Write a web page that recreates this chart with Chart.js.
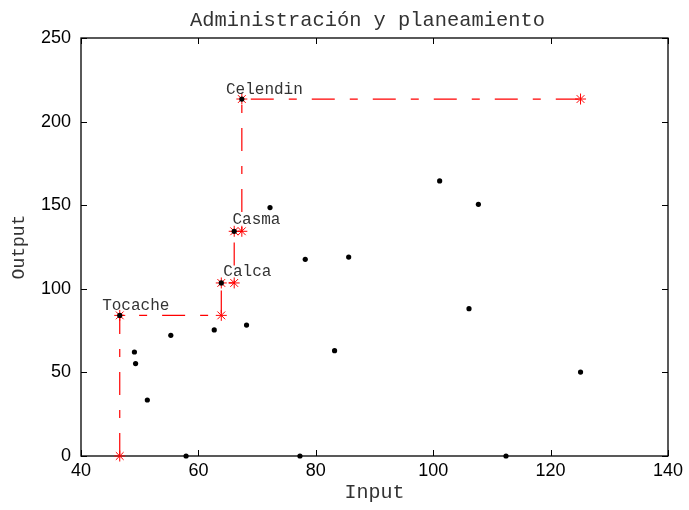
<!DOCTYPE html>
<html>
<head>
<meta charset="utf-8">
<script src="https://cdn.jsdelivr.net/npm/chart.js@4/dist/chart.umd.min.js"></script>
<style>
  body { margin: 0; background: #fff; }
  #wrap { width: 689px; height: 510px; }
</style>
</head>
<body>
<div id="wrap"><canvas id="c" width="689" height="510"></canvas></div>
<script>
// Daten
const titleText = 'Administración y planeamiento';
const inputs  = [46.6, 63.9, 66.1, 67.4, 49.1, 49.3, 51.3, 55.3, 57.9, 62.7, 68.2, 72.2, 78.2, 77.3, 83.2, 85.6, 101.1, 106.1, 107.7, 112.4, 125.1];
const outputs = [84.1, 103.5, 134.4, 213.5, 62.2, 55.3, 33.5, 72.2, 0, 75.4, 78.3, 148.6, 117.6, 0, 63.0, 119.0, 164.5, 88.1, 150.5, 0, 50.2];

// Frontera (escalera)
const frontierX = [46.6, 46.6, 63.9, 63.9, 66.1, 66.1, 67.4, 67.4, 125.1];
const frontierY = [0, 84.1, 84.1, 103.5, 103.5, 134.4, 134.4, 213.5, 213.5];

// Etiquetas de las unidades eficientes
const names  = ['Tocache', 'Calca', 'Casma', 'Celendin'];
const labelX = [43.6, 64.25, 65.8, 64.7];
const labelY = [87.6, 107.5, 139.0, 216.7];

const xTicks = [40, 60, 80, 100, 120, 140];
const yTicks = [0, 50, 100, 150, 200, 250];

const mono = "'Liberation Mono', 'DejaVu Sans Mono', monospace";
const sans = "'Liberation Sans', Arial, sans-serif";

const dots = inputs.map((v, i) => ({ x: v, y: outputs[i] }));
const frontier = frontierX.map((v, i) => ({ x: v, y: frontierY[i] }));

// Rahmen mit Ticks nach innen
const frame = {
    id: 'frame',
    beforeDatasetsDraw(chart) {
        const { ctx, chartArea: a, scales: { x, y } } = chart;
        ctx.save();
        ctx.strokeStyle = '#000';
        ctx.lineWidth = 1.3;
        ctx.strokeRect(a.left, a.top, a.right - a.left, a.bottom - a.top);
        ctx.lineWidth = 1;
        ctx.beginPath();
        xTicks.forEach(v => {
            const px = Math.round(x.getPixelForValue(v)) + 0.5;
            ctx.moveTo(px, a.bottom); ctx.lineTo(px, a.bottom - 6);
            ctx.moveTo(px, a.top); ctx.lineTo(px, a.top + 6);
        });
        yTicks.forEach(v => {
            const py = Math.round(y.getPixelForValue(v)) + 0.5;
            ctx.moveTo(a.left, py); ctx.lineTo(a.left + 6, py);
            ctx.moveTo(a.right, py); ctx.lineTo(a.right - 6, py);
        });
        ctx.stroke();
        ctx.restore();
    },
    afterDraw(chart) {
        const { ctx, scales: { x, y } } = chart;
        ctx.save();
        ctx.fillStyle = '#333';
        ctx.font = '16px ' + mono;
        ctx.textAlign = 'left';
        ctx.textBaseline = 'alphabetic';
        names.forEach((n, i) => {
            ctx.fillText(n, x.getPixelForValue(labelX[i]), y.getPixelForValue(labelY[i]));
        });
        ctx.font = '20.4px ' + mono;
        ctx.textAlign = 'center';
        ctx.fillText(titleText, 367.5, 25.5);
        ctx.restore();
    }
};

new Chart(document.getElementById('c'), {
    type: 'scatter',
    data: {
        datasets: [{
            data: dots,
            backgroundColor: '#000',
            borderWidth: 0,
            pointRadius: 2.6,
            clip: false
        }, {
            data: frontier,
            showLine: true,
            borderColor: '#ff0000',
            borderWidth: 1.2,
            borderDash: [23, 15, 8, 15],
            pointStyle: 'star',
            pointRadius: 5.5,
            pointBorderColor: '#ff0000',
            pointBorderWidth: 1,
            backgroundColor: '#ff0000',
            fill: false,
            clip: false
        }]
    },
    options: {
        responsive: false,
        animation: false,
        layout: { padding: { top: 38, right: 21, bottom: 0, left: 0 } },
        plugins: { legend: { display: false }, tooltip: { enabled: false }, title: { display: false } },
        scales: {
            x: {
                type: 'linear', min: 40, max: 140,
                afterBuildTicks: s => { s.ticks = xTicks.map(v => ({ value: v })); },
                afterFit: s => { s.height = 54; },
                grid: { display: false, drawTicks: false },
                border: { display: false },
                ticks: { color: '#000', padding: 4, font: { family: sans, size: 18 } },
                title: { display: true, text: 'Input', color: '#333', padding: { top: 0, bottom: 5 }, font: { family: mono, size: 20 } }
            },
            y: {
                type: 'linear', min: 0, max: 250,
                afterBuildTicks: s => { s.ticks = yTicks.map(v => ({ value: v })); },
                afterFit: s => { s.width = 81; },
                grid: { display: false, drawTicks: false },
                border: { display: false },
                ticks: { color: '#000', padding: 10, font: { family: sans, size: 18 } },
                title: { display: true, text: 'Output', color: '#333', padding: { top: 8, bottom: 0 }, font: { family: mono, size: 18 } }
            }
        }
    },
    plugins: [frame]
});
</script>
</body>
</html>
